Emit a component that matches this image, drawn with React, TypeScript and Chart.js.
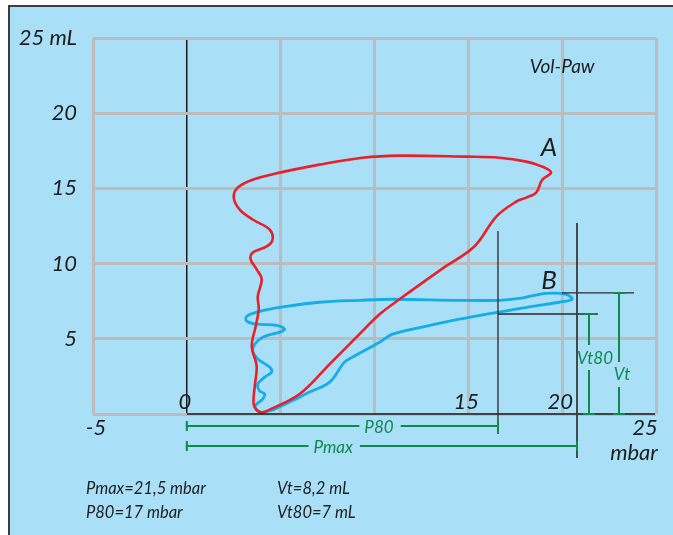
import React, { useEffect, useRef } from 'react';
import { Chart, registerables } from 'chart.js';

Chart.register(...registerables);

// ---- Data ----
const xMin = -5;
const xMax = 25;
const yMin = 0;
const yMax = 25;

const yTickValues = [25, 20, 15, 10, 5];
const yTickTexts = ['25 mL', '20', '15', '10', '5'];
const xTickValues = [-5, 0, 15, 20, 25];
const xTickTexts = ['-5', '0', '15', '20', '25'];
const xUnit = 'mbar';
const chartTitle = 'Vol-Paw';

// Curve A (red)
const curveAX = [4.04, 6.01, 7.61, 9.2, 10.27, 11.33, 13.56, 15.32, 16.49, 17.55, 18.09, 18.62, 18.94, 19.41, 18.94, 18.09, 16.65, 14.89, 11.33, 9.36, 7.07, 4.95, 3.51, 2.71, 2.5, 2.82, 3.51, 4.41, 4.57, 4.26, 3.51, 3.4, 3.72, 3.99, 3.78, 3.83, 3.67, 3.46, 3.72, 3.62, 3.56, 3.78, 4.04];
const curveAY = [0.07, 1.33, 3.32, 5.31, 6.63, 7.63, 9.62, 11.14, 13.13, 14.12, 14.39, 14.72, 15.58, 16.05, 16.45, 16.78, 17.04, 17.11, 17.18, 17.04, 16.58, 16.05, 15.58, 15.05, 14.39, 13.59, 12.93, 12.27, 11.6, 11.14, 10.74, 10.28, 9.62, 8.95, 7.82, 6.96, 5.84, 4.51, 3.18, 1.86, 0.66, 0.2, 0.07];

// Curve B (blue)
const curveBX = [3.99, 4.41, 5.48, 6.54, 7.61, 8.4, 8.83, 10.27, 10.96, 12.77, 14.52, 16.54, 18.4, 19.84, 20.53, 20.21, 19.15, 17.71, 16.65, 14.52, 10.96, 9.2, 7.07, 5.32, 3.88, 3.19, 3.19, 3.72, 4.79, 5.21, 4.95, 4.04, 3.62, 3.51, 3.78, 4.41, 4.52, 4.15, 3.78, 3.88, 4.15, 4.04, 3.72, 3.62, 3.78, 3.99];
const curveBY = [0.13, 0.2, 0.8, 1.46, 2.12, 3.45, 3.78, 4.77, 5.31, 5.84, 6.3, 6.76, 7.16, 7.43, 7.63, 7.96, 8.02, 7.69, 7.56, 7.56, 7.63, 7.56, 7.43, 7.16, 6.83, 6.5, 6.17, 5.97, 5.9, 5.64, 5.44, 5.11, 4.64, 4.18, 3.65, 3.12, 2.79, 2.45, 1.99, 1.53, 1.33, 0.99, 0.66, 0.46, 0.2, 0.13];

const curveNames = ['A', 'B'];
const curveLabelAt = [[19.3, 17.7], [19.3, 8.9]];

// Marker levels (as drawn)
const p80Drawn = 16.58;
const pmaxDrawn = 20.79;
const vt80Drawn = 6.65;
const vtDrawn = 8.05;

const summaryLeft = ['Pmax=21,5 mbar', 'P80=17 mbar'];
const summaryRight = ['Vt=8,2 mL', 'Vt80=7 mL'];

const RED = '#e8202a';
const BLUE = '#14ade8';
const GREEN = '#0f8a4e';
const GRID = '#bcbcbc';
const BG = '#aadff8';
const INK = '#1e1e1e';
const FONT = 'Lato, "Open Sans", sans-serif';

const toPts = (xs: number[], ys: number[]) => xs.map((x, i) => ({ x, y: ys[i] }));

const decorPlugin = {
  id: 'decor',
  beforeDraw(chart: any) {
    const { ctx, width, height } = chart;
    ctx.save();
    ctx.fillStyle = '#ffffff';
    ctx.fillRect(0, 0, width, height);
    ctx.fillStyle = BG;
    ctx.fillRect(9, 6, width - 9, height - 6);
    ctx.strokeStyle = '#3c3c3c';
    ctx.lineWidth = 2;
    ctx.beginPath();
    ctx.moveTo(9, height);
    ctx.lineTo(9, 6);
    ctx.lineTo(width, 6);
    ctx.stroke();
    ctx.restore();
  },
  afterDatasetsDraw(chart: any) {
    const { ctx } = chart;
    const xs = chart.scales.x;
    const ys = chart.scales.y;
    const X = (v: number) => xs.getPixelForValue(v);
    const Y = (v: number) => ys.getPixelForValue(v);
    ctx.save();

    // black baseline from 0 to 25
    ctx.strokeStyle = '#1a1a1a';
    ctx.lineWidth = 1.5;
    ctx.beginPath();
    ctx.moveTo(X(0), Y(0));
    ctx.lineTo(X(xMax) - 1, Y(0));
    ctx.stroke();

    // black marker lines
    ctx.strokeStyle = '#2a2a2a';
    ctx.lineWidth = 1.3;
    ctx.beginPath();
    ctx.moveTo(X(p80Drawn), Y(12.17));
    ctx.lineTo(X(p80Drawn), Y(-1.33));
    ctx.moveTo(X(p80Drawn), Y(vt80Drawn));
    ctx.lineTo(X(21.9), Y(vt80Drawn));
    ctx.moveTo(X(19.99), Y(vtDrawn));
    ctx.lineTo(X(23.83), Y(vtDrawn));
    ctx.stroke();
    ctx.strokeStyle = '#3a3a3a';
    ctx.lineWidth = 1.8;
    ctx.beginPath();
    ctx.moveTo(X(pmaxDrawn), Y(12.7));
    ctx.lineTo(X(pmaxDrawn), Y(-2.93));
    ctx.stroke();

    // green dimension lines
    ctx.strokeStyle = GREEN;
    ctx.fillStyle = GREEN;
    ctx.lineWidth = 2;
    ctx.font = `italic 17px ${FONT}`;
    ctx.textBaseline = 'middle';
    ctx.textAlign = 'center';
    const hDim = (yv: number, x1: number, x2: number, label: string, lx: number) => {
      const py = Y(yv);
      const px1 = X(x1);
      const px2 = X(x2);
      const tx = X(lx);
      const w = ctx.measureText(label).width;
      ctx.beginPath();
      ctx.moveTo(px1, py);
      ctx.lineTo(tx - w / 2 - 5, py);
      ctx.moveTo(tx + w / 2 + 7, py);
      ctx.lineTo(px2, py);
      ctx.moveTo(px1, py - 5);
      ctx.lineTo(px1, py + 5);
      ctx.moveTo(px2, py - 5);
      ctx.lineTo(px2, py + 5);
      ctx.stroke();
      ctx.fillText(label, tx, py + 1);
    };
    const vDim = (xv: number, y1: number, y2: number, label: string, ly: number, dx: number) => {
      const px = X(xv);
      const py1 = Y(y1);
      const py2 = Y(y2);
      const ty = Y(ly);
      ctx.beginPath();
      ctx.moveTo(px, py1);
      ctx.lineTo(px, ty - 13);
      ctx.moveTo(px, ty + 12);
      ctx.lineTo(px, py2);
      ctx.moveTo(px - 6, py1);
      ctx.lineTo(px + 6, py1);
      ctx.moveTo(px - 6, py2);
      ctx.lineTo(px + 6, py2);
      ctx.stroke();
      ctx.fillText(label, px + dx, ty);
    };
    hDim(-0.8, 0, p80Drawn, 'P80', 10.24);
    hDim(-2.13, 0, pmaxDrawn, 'Pmax', 7.8);
    vDim(21.43, vt80Drawn, 0, 'Vt80', 3.72, 6);
    vDim(23.03, vtDrawn, 0, 'Vt', 2.6, 3);

    // axis labels
    ctx.fillStyle = INK;
    ctx.font = `italic 22px ${FONT}`;
    ctx.textAlign = 'right';
    yTickValues.forEach((v, i) => {
      ctx.fillText(yTickTexts[i], 77, Y(v));
    });
    ctx.textAlign = 'center';
    xTickValues.forEach((v, i) => {
      const below = v === xMin || v === xMax;
      const px = X(v) + (below ? (v === xMin ? 3 : -11) : -2);
      const py = below ? Y(0) + 14 : Y(0) - 12;
      ctx.fillText(xTickTexts[i], px, py);
    });
    ctx.fillText(xUnit, X(xMax) - 22, Y(0) + 39);

    // title
    ctx.font = `italic 19px ${FONT}`;
    ctx.fillText(chartTitle, X(20), Y(23.1));

    // curve names
    ctx.font = `italic 26px ${FONT}`;
    curveNames.forEach((n, i) => {
      ctx.fillText(n, X(curveLabelAt[i][0]), Y(curveLabelAt[i][1]));
    });

    // summary
    ctx.font = `italic 16.5px ${FONT}`;
    ctx.textAlign = 'left';
    summaryLeft.forEach((t, i) => ctx.fillText(t, 86, 489 + i * 24));
    summaryRight.forEach((t, i) => ctx.fillText(t, 277, 489 + i * 24));

    ctx.restore();
  },
};

export default function App() {
  const ref = useRef<HTMLCanvasElement | null>(null);
  useEffect(() => {
    document.body.style.margin = '0';
    const canvas = ref.current;
    if (!canvas) return;
    const chart = new Chart(canvas, {
      type: 'scatter',
      data: {
        datasets: [
          {
            label: 'A',
            data: toPts(curveAX, curveAY),
            showLine: true,
            borderColor: RED,
            borderWidth: 2.6,
            pointRadius: 0,
            tension: 0.35,
            fill: false,
          },
          {
            label: 'B',
            data: toPts(curveBX, curveBY),
            showLine: true,
            borderColor: BLUE,
            borderWidth: 2.8,
            pointRadius: 0,
            tension: 0.35,
            fill: false,
          },
        ],
      },
      options: {
        responsive: false,
        animation: false,
        devicePixelRatio: 1,
        layout: { padding: { left: 93, right: 17, top: 38, bottom: 121 } },
        plugins: { legend: { display: false }, tooltip: { enabled: false }, title: { display: false } },
        scales: {
          x: {
            type: 'linear',
            min: xMin,
            max: xMax,
            ticks: { display: false, stepSize: 5 },
            border: { display: false },
            grid: {
              drawTicks: false,
              color: (c: any) => (c.tick && c.tick.value === 0 ? '#1a1a1a' : GRID),
              lineWidth: (c: any) => (c.tick && c.tick.value === 0 ? 1.5 : 3),
            },
          },
          y: {
            type: 'linear',
            min: yMin,
            max: yMax,
            ticks: { display: false, stepSize: 5 },
            border: { display: false },
            grid: { drawTicks: false, color: GRID, lineWidth: 3 },
          },
        },
      },
      plugins: [decorPlugin],
    });
    return () => chart.destroy();
  }, []);
  return (
    <div style={{ width: 673, height: 535 }}>
      <canvas ref={ref} width={673} height={535} style={{ display: 'block' }} />
    </div>
  );
}
